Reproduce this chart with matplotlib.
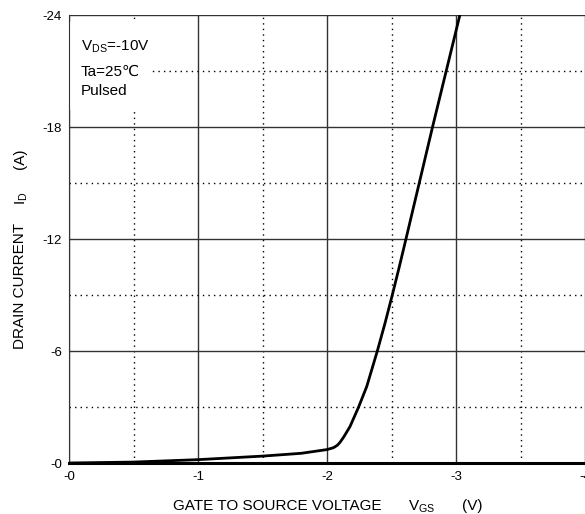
import matplotlib.pyplot as plt
from matplotlib.patches import Rectangle
from matplotlib.ticker import MultipleLocator

plt.rcParams['font.family'] = ['Liberation Sans', 'DejaVu Sans']
plt.rcParams['mathtext.fontset'] = 'custom'
plt.rcParams['mathtext.rm'] = 'Liberation Sans'

# curve: V_GS (V), I_D (A)
vgs = [0, -0.5, -1.0, -1.5, -1.8, -2.0, -2.05, -2.08, -2.1, -2.13, -2.178,
       -2.245, -2.308, -2.39, -2.45, -2.506, -2.56, -2.612, -2.715,
       -2.818, -2.924, -3.03]
id_ = [0, -0.05, -0.18, -0.37, -0.52, -0.72, -0.82, -0.95, -1.1, -1.4, -1.95,
       -3.0, -4.1, -6.0, -7.5, -9.0, -10.5, -12.0, -15.0,
       -18.0, -21.0, -24.0]

xticks = [0, -1, -2, -3, -4]
xticklabels = ['-0', '-1', '-2', '-3', '-4']
yticks = [0, -6, -12, -18, -24]
yticklabels = ['-0', '-6', '-12', '-18', '-24']

fig = plt.figure(figsize=(5.85, 5.14), dpi=100)
ax = fig.add_axes([0.118, 0.0992, 0.882, 0.8716])

ax.plot(vgs, id_, color='black', lw=2.0, solid_capstyle='round',
        solid_joinstyle='round', zorder=3)

ax.set_xlim(0, -4)
ax.set_ylim(0, -24)
ax.set_xticks(xticks)
ax.set_xticklabels(xticklabels)
ax.set_yticks(yticks)
ax.set_yticklabels(yticklabels)
ax.xaxis.set_minor_locator(MultipleLocator(0.5))
ax.yaxis.set_minor_locator(MultipleLocator(3))
ax.tick_params(which='both', length=0, labelsize=9.5)
ax.tick_params(axis='x', pad=6)
ax.tick_params(axis='y', pad=5)

ax.grid(which='major', color='#333333', lw=1.0, ls='-')
ax.grid(which='minor', color='black', lw=1.0, ls=(0, (1, 3)))

for side in ['top', 'right']:
    ax.spines[side].set_visible(False)
ax.spines['left'].set_color('#333333')
ax.spines['bottom'].set_linewidth(2.2)

# white panel behind the conditions text (hides the dotted grid there)
ax.add_patch(Rectangle((0.002, 0.788), 0.155, 0.196, transform=ax.transAxes,
                       facecolor='white', edgecolor='none', zorder=2.2))
ax.text(0.023, 0.922, r'V$_{\mathrm{DS}}$=-10V', transform=ax.transAxes,
        fontsize=11, va='baseline', zorder=4)
ax.text(0.023, 0.864, 'Ta=25\u2103', transform=ax.transAxes, fontsize=11,
        va='baseline', zorder=4)
ax.text(0.023, 0.821, 'Pulsed', transform=ax.transAxes, fontsize=11,
        va='baseline', zorder=4)

# x axis title, pieces spaced like the original
fig.text(173 / 585, 0.008, 'GATE TO SOURCE VOLTAGE', fontsize=11, va='baseline')
fig.text(408 / 585, 0.008, r'V$_{\mathrm{GS}}$', fontsize=11, va='baseline')
fig.text(462 / 585, 0.008, '(V)', fontsize=11, va='baseline')

# y axis title
fig.text(20 / 585, 1 - 286 / 514, 'DRAIN CURRENT', fontsize=11, rotation=90,
         ha='center', va='center')
fig.text(22 / 585, 1 - 198 / 514, r'I$_{\mathrm{D}}$', fontsize=11, rotation=90,
         ha='center', va='center')
fig.text(20 / 585, 1 - 159 / 514, '(A)', fontsize=11, rotation=90,
         ha='center', va='center')

fig.savefig('out.png', dpi=100)
